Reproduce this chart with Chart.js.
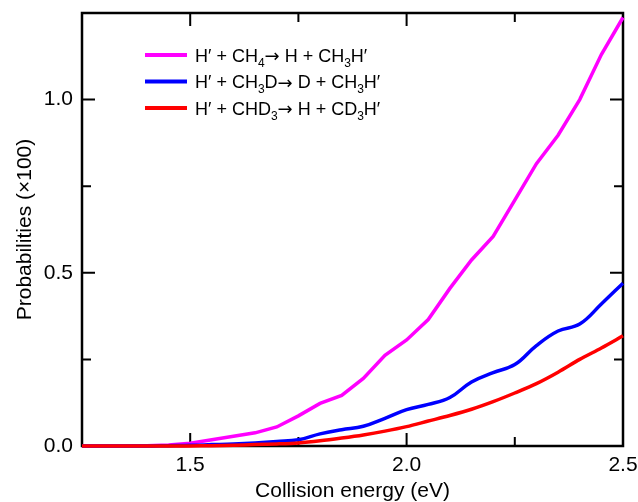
<!DOCTYPE html>
<html><head><meta charset="utf-8">
<script src="https://cdn.jsdelivr.net/npm/chart.js@4/dist/chart.umd.min.js"></script>
<style>html,body{margin:0;padding:0;background:#fff;}canvas{display:block}</style>
</head><body>
<canvas id="c" width="638" height="502"></canvas>
<script>
// ---- data ----
const energies = [1.25,1.30,1.35,1.40,1.45,1.50,1.55,1.60,1.65,1.70,1.75,1.80,1.85,1.90,1.95,2.00,2.05,2.10,2.15,2.20,2.25,2.30,2.35,2.40,2.45,2.50];
const pCH4  = [0,0,0,0.001,0.003,0.008,0.018,0.028,0.038,0.055,0.087,0.123,0.146,0.195,0.262,0.306,0.365,0.455,0.537,0.605,0.710,0.815,0.897,1.000,1.130,1.237];
const pCH3D = [0,0,0,0,0.001,0.002,0.004,0.006,0.009,0.013,0.018,0.035,0.047,0.057,0.080,0.105,0.120,0.140,0.185,0.212,0.235,0.290,0.332,0.352,0.410,0.470];
const pCHD3 = [0,0,0,0,0,0,0.001,0.002,0.004,0.006,0.009,0.015,0.023,0.032,0.043,0.056,0.072,0.088,0.106,0.128,0.153,0.180,0.213,0.250,0.283,0.318];
const xTickLabels = [1.5, 2.0, 2.5];
const yTickLabels = [0.0, 0.5, 1.0];
// legend text segments: [text, kind] kind 0 = normal, 1 = subscript, 2 = arrow
const nameCH4  = [["H\u2032 + CH",0],["4",1],["\u2192",2],[" H + CH",0],["3",1],["H\u2032",0]];
const nameCH3D = [["H\u2032 + CH",0],["3",1],["D",0],["\u2192",2],[" D + CH",0],["3",1],["H\u2032",0]];
const nameCHD3 = [["H\u2032 + CHD",0],["3",1],["\u2192",2],[" H + CD",0],["3",1],["H\u2032",0]];
const xTitle = "Collision energy (eV)";
const yTitle = "Probabilities (\u00d7100)";

const FONT = "'Liberation Sans', Arial, Helvetica, sans-serif";
const pts = arr => energies.map((e,i)=>({x:e,y:arr[i]}));
const near = (v, list) => list.some(l => Math.abs(l - v) < 1e-6);

const series = [
  {segs: nameCH4,  color:'#ff00ff', data: pCH4,  tension:0},
  {segs: nameCH3D, color:'#0000ff', data: pCH3D, tension:0.4},
  {segs: nameCHD3, color:'#ff0000', data: pCHD3, tension:0.3}
];

const framePlugin = {
  id:'frame',
  beforeDatasetsDraw(chart){
    const {ctx, chartArea:a, scales:{x,y}} = chart;
    ctx.save();
    ctx.strokeStyle='#000';
    ctx.lineWidth=2;
    ctx.lineCap='butt';
    x.ticks.forEach(t=>{
      const px = x.getPixelForValue(t.value);
      const len = near(t.value, xTickLabels) ? 13 : 9;
      ctx.beginPath();
      ctx.moveTo(px, a.bottom); ctx.lineTo(px, a.bottom-len);
      ctx.moveTo(px, a.top); ctx.lineTo(px, a.top+len);
      ctx.stroke();
    });
    y.ticks.forEach(t=>{
      const py = y.getPixelForValue(t.value);
      const len = near(t.value, yTickLabels) ? 13 : 9;
      ctx.beginPath();
      ctx.moveTo(a.left, py); ctx.lineTo(a.left+len, py);
      ctx.moveTo(a.right, py); ctx.lineTo(a.right-len, py);
      ctx.stroke();
    });
    ctx.lineWidth=2.5;
    ctx.strokeRect(a.left, a.top, a.right-a.left, a.bottom-a.top);
    ctx.restore();
  }
};

const legendPlugin = {
  id:'richLegend',
  afterDraw(chart){
    const ctx = chart.ctx;
    const x0 = 145, lineLen = 42, textX = 195, y0 = 55, dy = 26.5;
    ctx.save();
    series.forEach((s,i)=>{
      const yy = y0 + i*dy;
      ctx.strokeStyle = s.color; ctx.lineWidth = 4;
      ctx.beginPath(); ctx.moveTo(x0, yy); ctx.lineTo(x0+lineLen, yy); ctx.stroke();
      let cx = textX;
      ctx.fillStyle = '#000';
      ctx.textBaseline = 'alphabetic';
      s.segs.forEach(([txt, kind])=>{
        let by = yy + 6.5;
        if (kind === 1) { ctx.font = '12px ' + FONT; by += 5; }
        else if (kind === 2) { ctx.font = "18px 'DejaVu Sans', sans-serif"; by += 0.5; }
        else ctx.font = '18px ' + FONT;
        ctx.fillText(txt, cx, by);
        cx += ctx.measureText(txt).width;
      });
    });
    ctx.restore();
  }
};

new Chart(document.getElementById('c'), {
  type:'line',
  data:{
    datasets: series.map(s=>({
      label: s.segs.map(q=>q[0]).join(''),
      data: pts(s.data),
      borderColor: s.color,
      backgroundColor: s.color,
      borderWidth: 3.5,
      pointRadius: 0,
      tension: s.tension,
      fill: false,
      clip: 4
    })).reverse()
  },
  options:{
    responsive:false,
    animation:false,
    layout:{padding:{top:13,right:15,left:0,bottom:0}},
    plugins:{legend:{display:false}, tooltip:{enabled:false}},
    scales:{
      x:{
        type:'linear', min:1.25, max:2.5,
        afterFit(s){ s.height = 56; s.paddingLeft = 0; s.paddingRight = 0; },
        grid:{display:false, drawTicks:false},
        border:{display:false},
        ticks:{
          stepSize:0.25, padding:7, color:'#000', maxRotation:0, autoSkip:false,
          font:{family:FONT, size:21},
          callback:v => near(v, xTickLabels) ? v.toFixed(1) : ''
        },
        title:{display:true, text:xTitle, color:'#000', font:{family:FONT, size:21}, padding:{top:0,bottom:-2}}
      },
      y:{
        type:'linear', min:0, max:1.25,
        afterFit(s){ s.width = 82; s.paddingTop = 0; s.paddingBottom = 0; },
        grid:{display:false, drawTicks:false},
        border:{display:false},
        ticks:{
          stepSize:0.25, padding:9, color:'#000', autoSkip:false,
          font:{family:FONT, size:21},
          callback:v => near(v, yTickLabels) ? v.toFixed(1) : ''
        },
        title:{display:true, text:yTitle, color:'#000', font:{family:FONT, size:21}, padding:{top:13,bottom:0}}
      }
    }
  },
  plugins:[framePlugin, legendPlugin]
});
</script>
</body></html>
